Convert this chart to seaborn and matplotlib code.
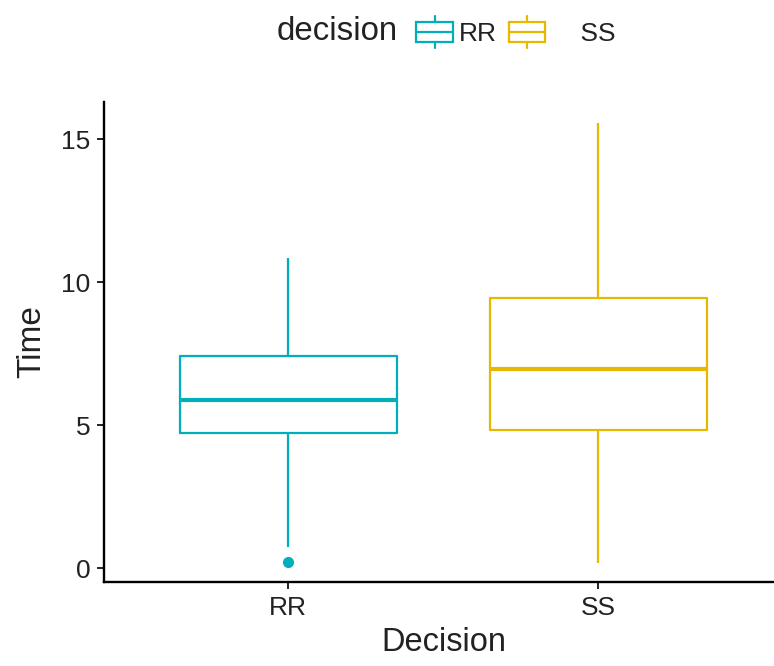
import matplotlib
matplotlib.use("Agg")
import matplotlib.pyplot as plt
import seaborn as sns
import pandas as pd
from matplotlib.legend_handler import HandlerBase
from matplotlib.patches import Rectangle
from matplotlib.lines import Line2D

# Valores (quartis, bigodes e outlier de cada grupo)
decisions = ["RR", "SS"]
colors = ["#00AFBB", "#E7B800"]
rr_time = [0.20, 0.74, 4.71, 4.71, 5.86, 7.41, 7.41, 10.83, 10.83]
ss_time = [0.16, 4.83, 4.83, 6.95, 9.43, 9.43, 15.55]
y_ticks = [0, 5, 10, 15]
legend_labels = ["RR", "    SS"]

df = pd.DataFrame({
    "decision": ["RR"] * len(rr_time) + ["SS"] * len(ss_time),
    "Time": rr_time + ss_time,
})

sns.set_theme(style="ticks")
plt.rcParams["font.family"] = ["Liberation Sans", "DejaVu Sans"]
text_color = "#222222"


# Ícone da legenda no estilo ggplot (caixa + mediana + bigodes)
class BoxHandler(HandlerBase):
    def create_artists(self, legend, orig_handle, xdescent, ydescent,
                       width, height, fontsize, trans):
        c = orig_handle.get_edgecolor()
        x0, y0 = -xdescent, -ydescent
        bh = height * 0.66
        by = y0 + (height - bh) / 2
        box = Rectangle((x0, by), width, bh, facecolor="white",
                        edgecolor=c, linewidth=1.6, transform=trans)
        med = Line2D([x0, x0 + width], [y0 + height / 2] * 2, color=c,
                     linewidth=1.6, transform=trans)
        cx = x0 + width / 2
        w_top = Line2D([cx, cx], [by + bh, y0 + height * 1.05], color=c,
                       linewidth=1.6, transform=trans)
        w_bot = Line2D([cx, cx], [y0 - height * 0.05, by], color=c,
                       linewidth=1.6, transform=trans)
        return [box, med, w_top, w_bot]


fig = plt.figure(figsize=(7.74, 6.66), dpi=100)
ax = fig.add_axes([0.1344, 0.1261, 0.8656, 0.7207])

sns.boxplot(
    data=df, x="decision", y="Time", hue="decision", order=decisions,
    hue_order=decisions, palette=colors, fill=False, width=0.7,
    linewidth=1.6, whis=1.5, showcaps=False,
    medianprops={"linewidth": 3.0},
    flierprops={"marker": "o", "markersize": 7},
    legend=False, ax=ax,
)

# outliers preenchidos
for line in ax.lines:
    if line.get_marker() == "o":
        line.set_markerfacecolor(line.get_markeredgecolor())

ax.set_xlim(-0.594, 1.566)
ax.set_ylim(-0.49, 16.3)
ax.set_yticks(y_ticks)
ax.set_xlabel("Decision", fontsize=23.5, color=text_color, labelpad=5)
ax.xaxis.label.set_x(0.507)
ax.set_ylabel("Time", fontsize=24, color=text_color, labelpad=10)
ax.tick_params(axis="both", labelsize=19, colors=text_color, length=5,
               width=1.4, direction="out")
ax.tick_params(axis="y", pad=5)
ax.tick_params(axis="x", pad=5)
for s in ["top", "right"]:
    ax.spines[s].set_visible(False)
for s in ["left", "bottom"]:
    ax.spines[s].set_linewidth(1.7)
    ax.spines[s].set_color("black")

handles = [Rectangle((0, 0), 1, 1, facecolor="white", edgecolor=c) for c in colors]
fig.text(0.436, 0.952, "decision", fontsize=23.8, color=text_color,
         ha="center", va="center")
fig.legend(handles, legend_labels, handler_map={Rectangle: BoxHandler()},
           loc="center left", bbox_to_anchor=(0.538, 0.952), ncol=2,
           frameon=False, fontsize=19, handlelength=1.4, handleheight=1.36,
           handletextpad=0.2, columnspacing=0.45, borderpad=0,
           borderaxespad=0, labelcolor=text_color)

fig.savefig("out.png", dpi=100)
